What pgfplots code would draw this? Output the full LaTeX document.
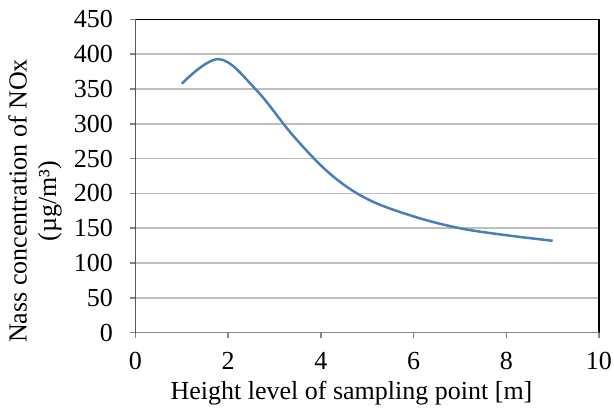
\documentclass[border=0pt]{standalone}
\usepackage{fontspec}
\setmainfont{Liberation Serif}
\usepackage{pgfplots}
\pgfplotsset{compat=1.18}
\definecolor{curve}{RGB}{74,126,187}
\definecolor{gridc}{RGB}{191,191,191}
\definecolor{axisc}{RGB}{134,134,134}
\begin{document}
\fontsize{26}{29.5}\selectfont
\begin{tikzpicture}
\path[use as bounding box] (-135.5pt,-75.3pt) rectangle (478.5pt,332.7pt);
\begin{axis}[
  at={(0pt,0pt)}, anchor=south west,
  scale only axis, width=463.5pt, height=313.4pt,
  xmin=0, xmax=10, ymin=0, ymax=450,
  xtick={0,2,4,6,8,10}, ytick={0,50,100,150,200,250,300,350,400,450},
  xtick pos=lower, ytick pos=left,
  /pgf/number format/assume math mode=true,
  tick align=outside, major tick length=5pt,
  tick style={axisc, line width=1.5pt},
  ymajorgrids, grid style={gridc, line width=1.5pt},
  axis line style={black, line width=1.5pt},
  xticklabel style={inner sep=0pt, font=\fontsize{26}{29.5}\selectfont},
  yticklabel style={inner sep=0pt, font=\fontsize{26}{29.5}\selectfont},
  xticklabel shift=14pt,
  yticklabel shift=17.5pt,
  xlabel={Height level of sampling point [m]},
  ylabel={Nass concentration of NOx\\(µg/m³)},
  xlabel style={at={(axis description cs:0.466,-0.2147)}, anchor=base, inner sep=0pt},
  ylabel style={at={(axis description cs:-0.2168,0.42)}, anchor=center, rotate=0, align=center, inner sep=0pt},
  label style={font=\fontsize{26}{29.5}\selectfont},
]
\addplot[curve, line width=2.5pt, smooth, tension=0.6, no marks] coordinates {
(1,357.5) (1.8,392.8) (2.6,349) (3.4,283) (4.2,228) (5,192) (6,167) (7,150) (8,140) (9,132)
};
\draw[axisc, line width=1.5pt] (rel axis cs:0,1) -- (rel axis cs:0,0) -- (rel axis cs:1,0);
\end{axis}
\end{tikzpicture}
\end{document}
